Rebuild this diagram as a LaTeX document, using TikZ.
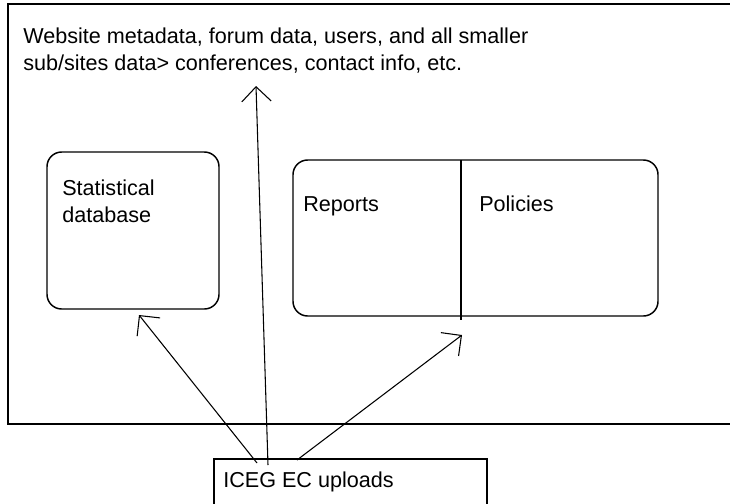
\documentclass[tikz,border=0pt]{standalone}
\usepackage{fontspec}
\setmainfont{Liberation Sans}
\usetikzlibrary{arrows.meta}
\tikzset{
  frame/.style={draw=black, line width=1.4pt, inner sep=0pt},
  roundbox/.style={draw=black, line width=1.1pt, rounded corners=11pt, inner sep=0pt},
  plainbox/.style={draw=black, line width=1.1pt, inner sep=0pt},
  label/.style={inner sep=0pt, anchor=base west, align=left, font=\fontsize{16.2}{20.25}\selectfont},
  conn/.style={draw=black, line width=0.8pt, -{Straight Barb[length=11pt, width=22pt, line width=0.8pt]}},
  divider/.style={draw=black, line width=1.1pt}
}
\begin{document}
\begin{tikzpicture}[x=0.75pt, y=-0.75pt]
\useasboundingbox (0,0) rectangle (730,503);
\fill[white] (0,0) rectangle (730,503);
% outer frame
\node[frame, minimum width=556.5pt, minimum height=315pt] (outer) at (379,214) {};
% boxes
\node[roundbox, minimum width=129pt, minimum height=117.75pt] (statdb) at (133,230.5) {};
\node[roundbox, minimum width=273.75pt, minimum height=117pt] (reppol) at (475.5,238) {};
\node[plainbox, minimum width=204.75pt, minimum height=45.75pt] (iceg) at (350.5,489.5) {};
% divider
\coordinate (d1) at (461,160);
\coordinate (d2) at (461,320);
\draw[divider] (d1) -- (d2);
% texts (base anchor = baseline of last line)
\node[label] (toptext) at (23,70) {Website metadata, forum data, users, and all smaller\\sub/sites data> conferences, contact info, etc.};
\node[label] (stattext) at (62,222) {Statistical\\database};
\node[label] (reptext) at (303,211) {Reports};
\node[label] (poltext) at (479,211) {Policies};
\node[label] (icegtext) at (223,487) {ICEG EC uploads};
% connectors
\coordinate (s1) at (257,463);
\coordinate (s2) at (268,465);
\coordinate (s3) at (297,460);
\coordinate (t1) at (139,315);
\coordinate (t2) at (256,86);
\coordinate (t3) at (462,335);
\draw[conn] (s1) -- (t1);
\draw[conn] (s2) -- (t2);
\draw[conn] (s3) -- (t3);
\end{tikzpicture}
\end{document}
